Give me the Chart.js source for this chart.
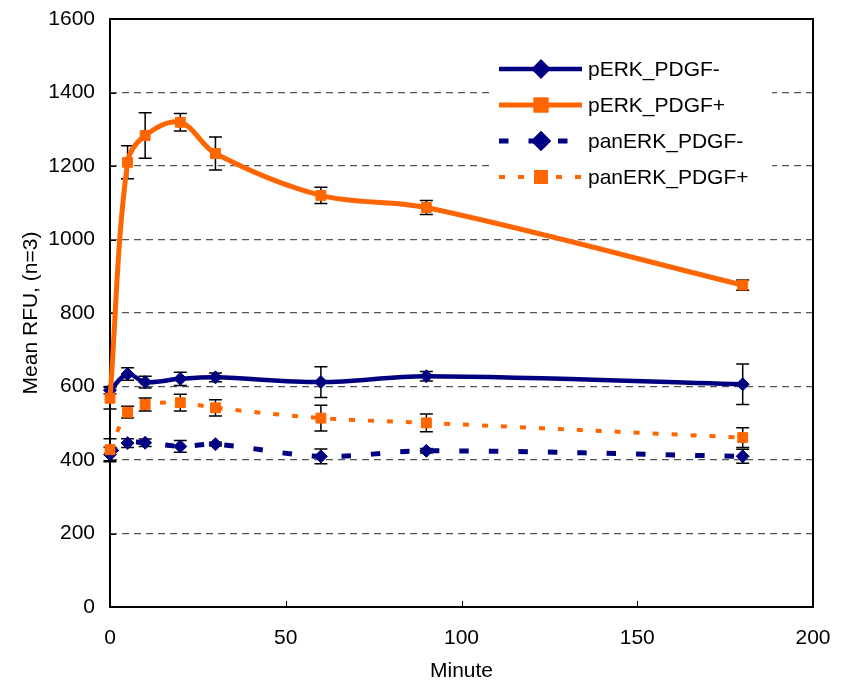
<!DOCTYPE html>
<html>
<head>
<meta charset="utf-8">
<script src="https://cdn.jsdelivr.net/npm/chart.js@4.4.1/dist/chart.umd.min.js"></script>
<style>
  html, body { margin: 0; padding: 0; background: #fff; }
  #wrap { width: 847px; height: 681px; }
</style>
</head>
<body>
<div id="wrap"><canvas id="c" width="847" height="681"></canvas></div>
<script>
// Time points (minutes) and mean RFU (n=3) with standard deviations
const minutes = [0, 5, 10, 20, 30, 60, 90, 180];
const seriesNames = ['pERK_PDGF-', 'pERK_PDGF+', 'panERK_PDGF-', 'panERK_PDGF+'];

const pErkMinus      = [590, 634, 612, 621, 625, 612, 628, 606];
const pErkMinusErr   = [10, 17, 16, 18, 12, 42, 13, 55];
const pErkPlus       = [568, 1210, 1283, 1319, 1234, 1120, 1087, 876];
const pErkPlusErr    = [29, 45, 62, 24, 45, 22, 19, 14];
const panErkMinus    = [415, 446, 447, 437, 443, 410, 425, 410];
const panErkMinusErr = [20, 12, 10, 16, 5, 20, 6, 19];
const panErkPlus     = [428, 530, 551, 556, 542, 514, 501, 461];
const panErkPlusErr  = [30, 16, 18, 23, 22, 35, 24, 27];

const xTickValues = [0, 50, 100, 150, 200];
const yTickValues = [0, 200, 400, 600, 800, 1000, 1200, 1400, 1600];

const NAVY = '#000080';
const ORANGE = '#FF6600';
const FONT = { family: "'Liberation Sans', Arial, sans-serif", size: 21 };

function pts(ys) { return minutes.map((m, i) => ({ x: m, y: ys[i] })); }

function series(label, ys, errs, color, width, dash, shape, radius, order) {
  return {
    label, data: pts(ys), errors: errs,
    showLine: true, borderColor: color, backgroundColor: color,
    borderWidth: width, borderDash: dash,
    pointStyle: shape, pointRadius: radius, pointHoverRadius: radius,
    pointBackgroundColor: color, pointBorderColor: color, pointBorderWidth: 1,
    tension: 0.35, clip: false, order
  };
}

// Plot frame, inward tick marks and error bars (drawn beneath the series)
const framePlugin = {
  id: 'frameAndErrors',
  beforeDatasetsDraw(chart) {
    const { ctx, chartArea: a, scales: { x, y } } = chart;
    ctx.save();
    ctx.strokeStyle = '#000';
    ctx.lineWidth = 2;
    ctx.setLineDash([]);
    ctx.strokeRect(a.left, a.top, a.right - a.left, a.bottom - a.top);
    ctx.lineWidth = 1;
    ctx.beginPath();
    yTickValues.forEach(v => {
      const py = Math.round(y.getPixelForValue(v)) + 0.5;
      ctx.moveTo(a.left, py); ctx.lineTo(a.left + 6, py);
    });
    xTickValues.forEach(v => {
      const px = Math.round(x.getPixelForValue(v)) + 0.5;
      ctx.moveTo(px, a.bottom); ctx.lineTo(px, a.bottom - 6);
    });
    ctx.stroke();

    ctx.lineWidth = 1.5;
    chart.data.datasets.forEach(ds => {
      ds.data.forEach((p, i) => {
        const e = ds.errors[i];
        const px = x.getPixelForValue(p.x);
        const top = y.getPixelForValue(p.y + e);
        const bot = y.getPixelForValue(p.y - e);
        ctx.beginPath();
        ctx.moveTo(px, top); ctx.lineTo(px, bot);
        ctx.moveTo(px - 6.5, top); ctx.lineTo(px + 6.5, top);
        ctx.moveTo(px - 6.5, bot); ctx.lineTo(px + 6.5, bot);
        ctx.stroke();
      });
    });
    ctx.restore();
  }
};

// Legend box inside the plot area, top right
const legendPlugin = {
  id: 'insideLegend',
  afterDraw(chart) {
    const ctx = chart.ctx;
    const boxL = 490, boxT = 50, boxW = 282, boxH = 146;
    const lineX0 = 499, lineX1 = 582, markX = 541, textX = 588;
    const rowY = [69, 105, 141, 177];
    ctx.save();
    ctx.fillStyle = '#fff';
    ctx.fillRect(boxL, boxT, boxW, boxH);
    chart.data.datasets.forEach((ds, i) => {
      const yy = rowY[i];
      ctx.strokeStyle = ds.borderColor;
      ctx.lineWidth = ds.borderWidth;
      ctx.setLineDash(ds.borderDash || []);
      ctx.beginPath();
      ctx.moveTo(lineX0, yy); ctx.lineTo(lineX1, yy);
      ctx.stroke();
      ctx.setLineDash([]);
      Chart.helpers.drawPoint(ctx, {
        pointStyle: ds.pointStyle, radius: ds.pointRadius, rotation: 0, borderWidth: 1
      }, markX, yy);
      ctx.fillStyle = ds.pointBackgroundColor;
      ctx.strokeStyle = ds.pointBorderColor;
      ctx.fill(); ctx.stroke();
      ctx.fillStyle = '#000';
      ctx.font = `${FONT.size}px ${FONT.family}`;
      ctx.textAlign = 'left';
      ctx.textBaseline = 'middle';
      ctx.fillText(ds.label, textX, yy + 1);
    });
    ctx.restore();
  }
};

const plainNumber = v => String(v);

new Chart(document.getElementById('c'), {
  type: 'scatter',
  data: {
    datasets: [
      series(seriesNames[0], pErkMinus, pErkMinusErr, NAVY, 4.5, [], 'rectRot', 6.5, 3),
      series(seriesNames[1], pErkPlus, pErkPlusErr, ORANGE, 5, [], 'rect', 7, 2),
      series(seriesNames[2], panErkMinus, panErkMinusErr, NAVY, 5, [9.5, 20], 'rectRot', 6.5, 1),
      series(seriesNames[3], panErkPlus, panErkPlusErr, ORANGE, 4, [6, 13], 'rect', 7, 0)
    ]
  },
  options: {
    responsive: false,
    devicePixelRatio: 1,
    animation: false,
    layout: { padding: { left: 0, right: 34, top: 19, bottom: 0 } },
    plugins: { legend: { display: false }, tooltip: { enabled: false } },
    scales: {
      x: {
        type: 'linear', min: 0, max: 200,
        afterBuildTicks: s => { s.ticks = xTickValues.map(v => ({ value: v })); },
        afterFit: s => { s.height = 74; s.paddingLeft = 0; s.paddingRight = 0; },
        ticks: { font: FONT, color: '#000', padding: 19, maxRotation: 0, callback: plainNumber },
        grid: { display: false, drawTicks: false },
        border: { display: false },
        title: { display: true, text: 'Minute', font: FONT, color: '#000', padding: { top: 0, bottom: -3 } }
      },
      y: {
        type: 'linear', min: 0, max: 1600,
        afterBuildTicks: s => { s.ticks = yTickValues.map(v => ({ value: v })); },
        afterFit: s => { s.width = 110; s.paddingTop = 0; s.paddingBottom = 0; },
        ticks: { font: FONT, color: '#000', padding: 15, callback: plainNumber },
        grid: { color: '#555', lineWidth: 1.2, drawTicks: false },
        border: { display: false, dash: [7, 5] },
        title: { display: true, text: 'Mean RFU, (n=3)', font: FONT, color: '#000', padding: { top: 19, bottom: 0 } }
      }
    }
  },
  plugins: [framePlugin, legendPlugin]
});
</script>
</body>
</html>
